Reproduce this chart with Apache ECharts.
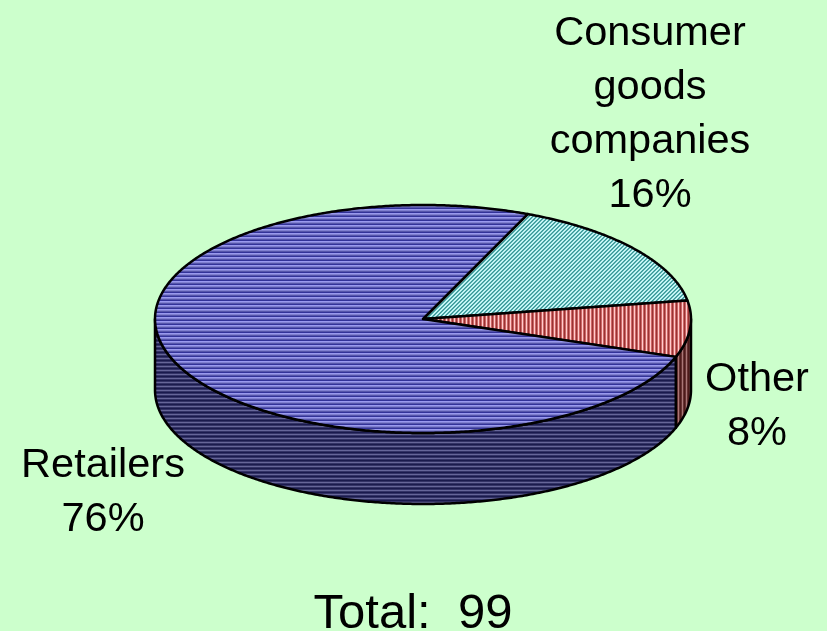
<!DOCTYPE html>
<html>
<head>
<meta charset="utf-8">
<style>html,body{margin:0;padding:0;background:#ccffcc;overflow:hidden}#chart{width:827px;height:631px}</style>
<script src="https://cdn.jsdelivr.net/npm/echarts@6/dist/echarts.min.js"></script>
</head>
<body>
<div id="chart"></div>
<script>
// Market share by owner type
const categories = ['Consumer goods companies', 'Other', 'Retailers'];
const labelLines = [['Consumer', 'goods', 'companies'], ['Other'], ['Retailers']];
const shares = [16, 8, 76];
const total = 99;

// Disc geometry
const disc = { cx: 423, cy: 319, rx: 268, ry: 114, depth: 71, startDeg: 67 };
const labelAnchors = [[650, 114.5], [757, 407], [103, 493]];

// Small repeating tiles for the hatched fills
function tile(size, paint) {
  const c = document.createElement('canvas');
  c.width = c.height = size;
  const g = c.getContext('2d');
  for (let y = 0; y < size; y++) {
    for (let x = 0; x < size; x++) {
      g.fillStyle = paint(x, y);
      g.fillRect(x, y, 1, 1);
    }
  }
  return { image: c, repeat: 'repeat' };
}
const rows = (colors) => (x, y) => colors[y % colors.length];
const cols = (colors) => (x, y) => colors[x % colors.length];
const diag = (colors) => (x, y) => colors[(x + y) % colors.length];

const topFills = [
  tile(4, diag(['#339999', '#66b3b3', '#ccffff', '#b3e6e6'])),
  tile(4, cols(['#993333', '#cc6666', '#ffcccc', '#cc6666'])),
  tile(4, rows(['#333399', '#9999ee', '#8080d0', '#5555aa']))
];
const sideFills = [
  null,
  tile(4, cols(['#4d1a1a', '#663333', '#aa7777', '#663333'])),
  tile(4, rows(['#1a1a4d', '#333366', '#666699', '#333366']))
];

function pointAt(deg, drop) {
  const a = deg * Math.PI / 180;
  return [disc.cx + disc.rx * Math.cos(a), disc.cy - disc.ry * Math.sin(a) + (drop || 0)];
}
function arc(fromDeg, toDeg, drop) {
  const n = Math.max(2, Math.ceil(Math.abs(toDeg - fromDeg) * 2));
  const pts = [];
  for (let i = 0; i <= n; i++) pts.push(pointAt(fromDeg + (toDeg - fromDeg) * i / n, drop));
  return pts;
}

const outline = { stroke: '#000', lineWidth: 2.5, lineJoin: 'round' };

function renderSlice(params, api) {
  const i = params.dataIndex;
  const value = api.value(0);
  let before = 0;
  for (let k = 0; k < i; k++) before += shares[k];
  const whole = shares.reduce((a, b) => a + b, 0);
  const from = disc.startDeg - before / whole * 360;
  const to = from - value / whole * 360;
  const children = [];

  // The rim shows only along the near half of the disc (0 to -180 degrees)
  const rimFrom = Math.min(from, 0);
  const rimTo = Math.max(to, -180);
  if (rimFrom > rimTo && sideFills[i]) {
    const upper = arc(rimFrom, rimTo, 0);
    const lower = arc(rimTo, rimFrom, disc.depth);
    children.push({
      type: 'polygon',
      shape: { points: upper.concat(lower) },
      style: Object.assign({ fill: sideFills[i] }, outline),
      z2: 1
    });
  }
  children.push({
    type: 'polygon',
    shape: { points: [[disc.cx, disc.cy]].concat(arc(from, to, 0)) },
    style: Object.assign({ fill: topFills[i] }, outline),
    z2: 2
  });
  const text = labelLines[i].concat([value + '%']).join('\n');
  children.push({
    type: 'text',
    x: labelAnchors[i][0],
    y: labelAnchors[i][1],
    style: {
      text: text,
      fill: '#000',
      font: '41.5px "Liberation Sans", Arial, sans-serif',
      lineHeight: 54,
      align: 'center',
      verticalAlign: 'middle'
    },
    z2: 3
  });
  return { type: 'group', children: children };
}

const chart = echarts.init(document.getElementById('chart'));
chart.setOption({
  animation: false,
  backgroundColor: '#ccffcc',
  title: {
    text: 'Total:  ' + total,
    left: 413,
    top: 590,
    textAlign: 'center',
    padding: 0,
    textStyle: { fontFamily: '"Liberation Sans", Arial, sans-serif', fontSize: 49, fontWeight: 'normal', color: '#000' }
  },
  series: [{
    type: 'custom',
    coordinateSystem: 'none',
    silent: true,
    encode: { value: 0 },
    data: shares.map((v, i) => ({ name: categories[i], value: [v] })),
    renderItem: renderSlice
  }]
});
</script>
</body>
</html>
